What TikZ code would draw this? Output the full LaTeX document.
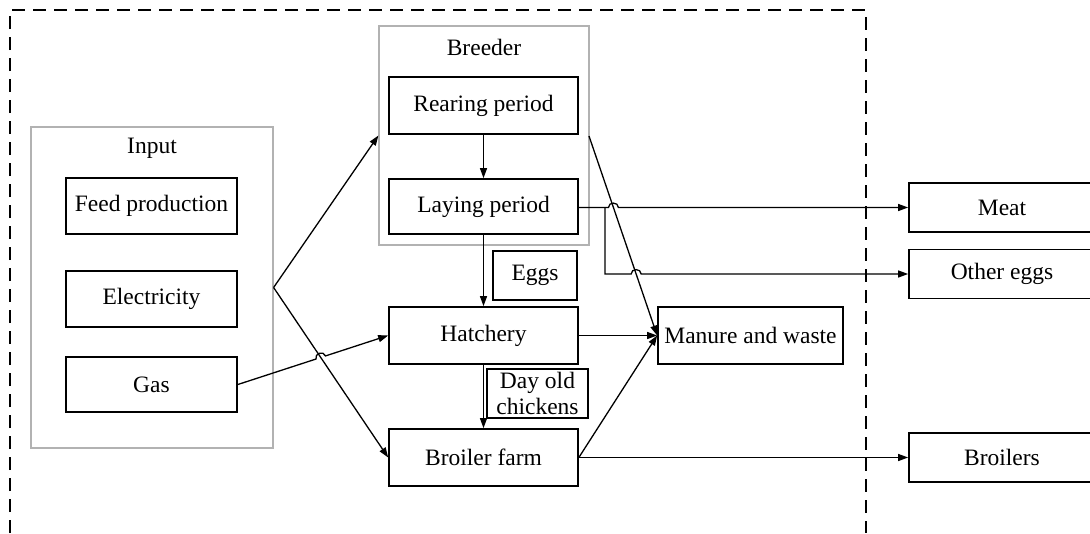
\documentclass[tikz,border=0pt]{standalone}
\usepackage{fontspec}
\setmainfont{Liberation Serif}
\usetikzlibrary{arrows.meta,calc,intersections}
\begin{document}
\begin{tikzpicture}[x=1pt,y=-1pt,
  every node/.style={font=\fontsize{23.5}{25.5}\selectfont, inner sep=0pt},
  bx/.style={draw=black, line width=1.7pt, minimum height=#1, anchor=center},
  bx/.default=56pt,
  grp/.style={draw=black!30, line width=1.2pt},
  arr/.style={line width=1.3pt, -{Triangle[length=10pt,width=7pt]}},
  jmp/.style={bend left=90, looseness=1.5}]
\useasboundingbox (0,0) rectangle (1090,533);
% dashed system boundary
\draw[line width=1.8pt, dash pattern=on 13pt off 8pt] (10,533) -- (10,10) -- (866,10) -- (866,533);
% groups
\node[grp, minimum width=242pt, minimum height=321pt] (input) at (152,287.5) {};
\node at (152,148) {Input};
\node[grp, minimum width=210pt, minimum height=219pt] (breeder) at (484,135.5) {};
\node at (484,47) {Breeder};
% input boxes
\node[bx, minimum width=171pt] (feed) at (151.5,206) {Feed production};
\node[bx, minimum width=171pt] (elec) at (151.5,299) {Electricity};
\node[bx=55pt, minimum width=171pt] (gas) at (151.5,384.5) {Gas};
% breeder chain
\node[bx=57pt, minimum width=189pt] (rear) at (483.5,105.5) {Rearing period};
\node[bx=55pt, minimum width=189pt] (lay) at (483.5,206.5) {Laying period};
\node[bx=49pt, minimum width=84pt] (eggs) at (535,275.5) {Eggs};
\node[bx=57pt, minimum width=189pt] (hatch) at (483.5,335.5) {Hatchery};
\node[bx=49pt, minimum width=101pt, align=center] (dayold) at (537.5,393.5) {Day old\\chickens};
\node[bx=57pt, minimum width=189pt] (broiler) at (483.5,457.5) {Broiler farm};
\node[bx=57pt, minimum width=185pt] (manure) at (750.5,335.5) {Manure and waste};
% outputs
\node[bx=49pt, minimum width=186pt] (meat) at (1002,207.5) {Meat};
\node[bx=49pt, minimum width=186pt] (other) at (1002,274) {Other eggs};
\node[bx=49pt, minimum width=186pt] (broilers) at (1002,457.5) {Broilers};
% connectors from input
\draw[arr] (input.east) -- (breeder.west);
\draw[arr, name path=ib] (input.east) -- (broiler.west);
\path[name path=gh] (gas.east) -- (hatch.west);
\path[name intersections={of=ib and gh, by=X1}];
\coordinate (J1a) at ($(X1)!5pt!(gas.east)$);
\coordinate (J1b) at ($(X1)!5pt!(hatch.west)$);
\draw[arr] (gas.east) -- (J1a) to[jmp] (J1b) -- (hatch.west);
% vertical chain
\draw[arr] (rear.south) -- (lay.north);
\draw[arr] (lay.south) -- (hatch.north);
\draw[arr] (hatch.south) -- (broiler.north);
% to manure
\coordinate (d0) at (589,136);
\draw[arr, name path=diag] (d0) -- (manure.west);
\draw[arr] (hatch.east) -- (manure.west);
\draw[arr] (broiler.east) -- (manure.west);
\draw[arr] (broiler.east) -- (broilers.west);
% laying outputs with jumps
\coordinate (br) at (605,207.5);
\path[name path=hm] (br) -- (meat.west);
\path[name intersections={of=diag and hm, by=X2}];
\coordinate (J2a) at ($(X2)+(-5,0)$);
\coordinate (J2b) at ($(X2)+(5,0)$);
\draw[arr] (lay.east |- br) -- (br) -- (J2a) to[jmp] (J2b) -- (meat.west);
\coordinate (br2) at (br |- other.west);
\path[name path=ho] (br2) -- (other.west);
\path[name intersections={of=diag and ho, by=X3}];
\coordinate (J3a) at ($(X3)+(-5,0)$);
\coordinate (J3b) at ($(X3)+(5,0)$);
\draw[arr] (br) -- (br2) -- (J3a) to[jmp] (J3b) -- (other.west);
\end{tikzpicture}
\end{document}
